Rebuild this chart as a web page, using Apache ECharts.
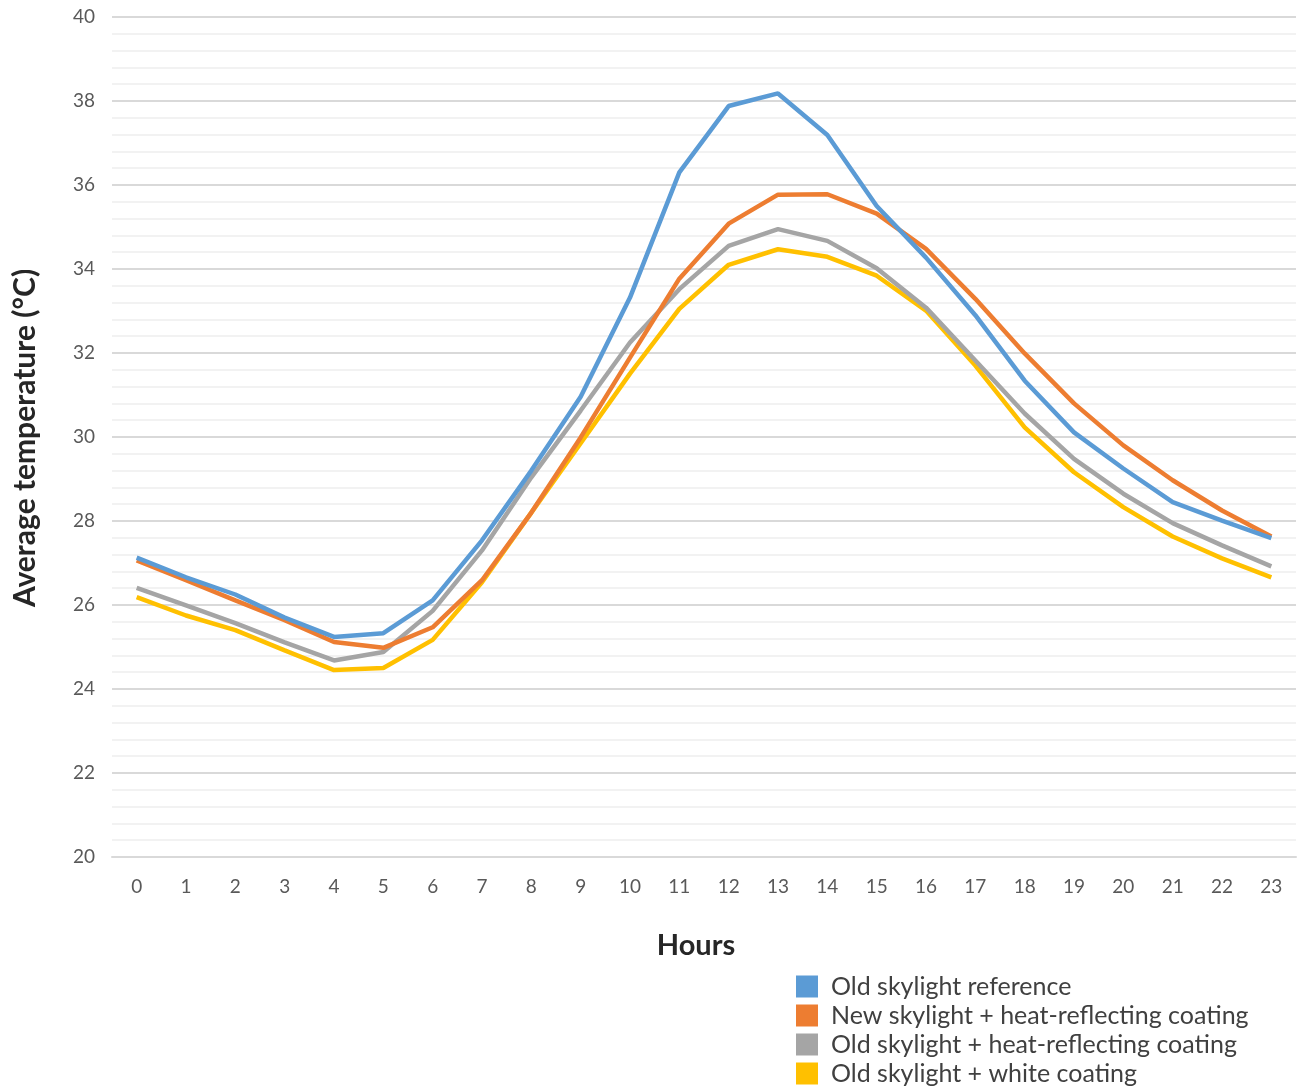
<!DOCTYPE html>
<html>
<head>
<meta charset="utf-8">
<script src="https://cdn.jsdelivr.net/npm/echarts@6/dist/echarts.min.js"></script>
<style>
html,body{margin:0;padding:0;background:#fff;}
#chart{width:1298px;height:1088px;}
</style>
</head>
<body>
<div id="chart"></div>
<script>
var hours = ['0','1','2','3','4','5','6','7','8','9','10','11','12','13','14','15','16','17','18','19','20','21','22','23'];
var oldReference = [27.13,26.66,26.25,25.7,25.24,25.33,26.11,27.54,29.2,30.96,33.32,36.3,37.88,38.18,37.19,35.5,34.27,32.9,31.34,30.11,29.25,28.45,28.01,27.59];
var newHeatReflect = [27.06,26.59,26.11,25.64,25.12,24.98,25.47,26.59,28.2,29.99,31.89,33.77,35.08,35.77,35.78,35.32,34.48,33.29,31.99,30.8,29.8,28.97,28.25,27.63];
var oldHeatReflect = [26.41,25.99,25.57,25.11,24.68,24.88,25.86,27.3,29.04,30.63,32.25,33.52,34.55,34.95,34.67,34.02,33.08,31.82,30.56,29.48,28.65,27.95,27.42,26.92];
var oldWhite = [26.19,25.75,25.4,24.92,24.45,24.5,25.17,26.54,28.2,29.85,31.51,33.05,34.1,34.47,34.29,33.84,33.01,31.7,30.23,29.16,28.33,27.63,27.11,26.66];
var seriesNames = ['Old skylight reference','New skylight + heat-reflecting coating','Old skylight + heat-reflecting coating','Old skylight + white coating'];
var colors = ['#5B9BD5','#ED7D31','#A5A5A5','#FFC000'];

var font = 'Lato, "Open Sans", sans-serif';
var chart = echarts.init(document.getElementById('chart'));
var data = [oldReference, newHeatReflect, oldHeatReflect, oldWhite];
chart.setOption({
  animation: false,
  textStyle: {fontFamily: font},
  grid: {left: 112, right: 2, top: 17, bottom: 231},
  legend: {
    orient: 'vertical', left: 796, top: 974, width: 500,
    padding: 0,
    itemWidth: 22, itemHeight: 22, itemGap: 4,
    icon: 'rect',
    textStyle: {fontSize: 25, color: '#404040', fontFamily: font, padding: [0, 0, 0, 8]},
    data: seriesNames
  },
  xAxis: {
    type: 'category', data: hours, boundaryGap: true,
    axisLine: {show: true, lineStyle: {color: '#d9d9d9', width: 2}},
    axisTick: {show: false},
    axisLabel: {fontSize: 19, color: '#595959', margin: 20}
  },
  yAxis: {
    type: 'value', min: 20, max: 40, interval: 2,
    axisLine: {show: false}, axisTick: {show: false},
    axisLabel: {fontSize: 19, color: '#595959', margin: 17},
    splitLine: {lineStyle: {color: '#d9d9d9', width: 2}},
    minorTick: {show: false, splitNumber: 5},
    minorSplitLine: {show: true, lineStyle: {color: '#f2f2f2', width: 2}}
  },
  graphic: [
    {type: 'text', x: 696, y: 946, style: {text: 'Hours', font: 'bold 29px ' + font, fill: '#262626', textAlign: 'center', textVerticalAlign: 'middle'}},
    {type: 'text', rotation: Math.PI/2, x: 25, y: 438, style: {text: 'Average temperature (°C)', font: 'bold 30px ' + font, fill: '#262626', textAlign: 'center', textVerticalAlign: 'middle'}}
  ],
  series: seriesNames.map(function(n, i){
    return {
      name: n, type: 'line', data: data[i], symbol: 'none',
      lineStyle: {color: colors[i], width: 4.5},
      itemStyle: {color: colors[i]},
      z: 10 - i
    };
  })
});
</script>
</body>
</html>
